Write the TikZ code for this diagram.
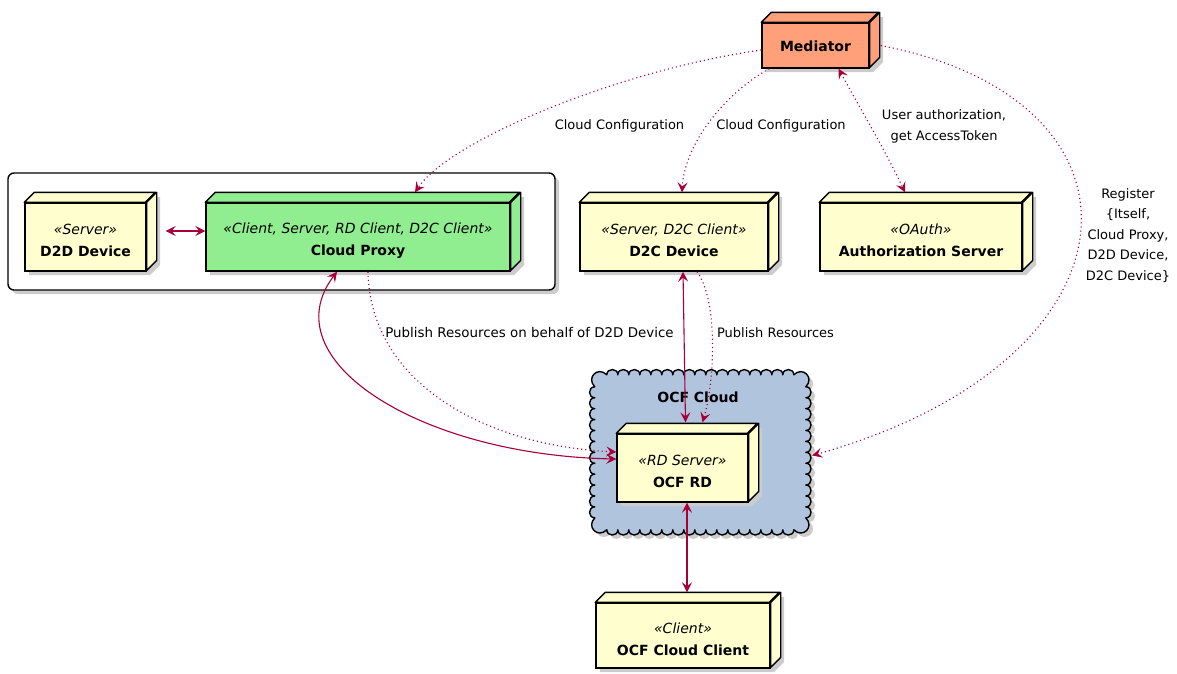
\documentclass[tikz,border=0pt]{standalone}
\usepackage{fontspec}
\setmainfont{DejaVu Sans}
\usetikzlibrary{arrows.meta}
\definecolor{arr}{HTML}{A80036}
\definecolor{devfill}{HTML}{FEFECE}
\definecolor{proxyfill}{HTML}{90EE90}
\definecolor{medfill}{HTML}{FFA07A}
\definecolor{cloudfill}{HTML}{B0C4DE}
\tikzset{
  dev/.style={draw=black, line width=1.4pt, inner sep=0pt},
  devtext/.style={align=center, inner sep=0pt, font=\fontsize{14}{22}\selectfont},
  devline/.style={draw=black, line width=1.4pt, line join=round},
  shade3/.style={fill=black!20},
  solidc/.style={draw=arr, line width=1.1pt},
  dottedc/.style={draw=arr, line width=1.1pt, dash pattern=on 1.1pt off 3pt},
  lbl/.style={font=\fontsize{13}{20.5}\selectfont, align=center, inner sep=0pt},
}
\newcommand\devdy{-3.5pt}
% #1 name, #2 cx, #3 cy, #4 w, #5 h, #6 fill, #7 text
\newcommand\devnode[7]{%
  \fill[shade3] ({#2-#4/2+4},{#3-#5/2+4}) -- ++(10,-10) -- ++(#4,0) -- ++(0,#5) -- ++(-10,10) -- ++(-#4,0) -- cycle;
  \node[dev, fill=#6, minimum width=#4, minimum height=#5,
        label={[devtext, yshift=\devdy]center:#7}] (#1) at (#2,#3) {};
  \draw[devline, fill=#6] (#1.north west) -- ++(10,-10) -- ++(#4,0) -- ++(-10,10) -- cycle;
  \draw[devline, fill=#6] (#1.north east) -- ++(10,-10) -- ++(0,#5) -- ++(-10,10) -- cycle;
}
% scalloped cloud outline starting at top-left of top edge
\newcommand\cloudpath{%
  \foreach \i in {1,...,17} { .. controls +(0,-7) and +(0,-7) .. ++(11,0) }
  .. controls +(9,-9) and +(9,-9) .. ++(12,12)
  \foreach \i in {1,...,12} { .. controls +(7,0) and +(7,0) .. ++(0,10.917) }
  .. controls +(9,9) and +(9,9) .. ++(-12,12)
  \foreach \i in {1,...,17} { .. controls +(0,7) and +(0,7) .. ++(-11,0) }
  .. controls +(-9,9) and +(-9,9) .. ++(-12,-12)
  \foreach \i in {1,...,12} { .. controls +(-7,0) and +(-7,0) .. ++(0,-10.917) }
  .. controls +(-9,-9) and +(-9,-9) .. ++(12,-12) -- cycle}
\begin{document}
\begin{tikzpicture}[x=1pt,y=-1pt,>={Stealth[length=10pt,width=10pt,inset=4pt]}]
\useasboundingbox (0,0) rectangle (1177,673);

% group around D2D device and cloud proxy
\fill[shade3, rounded corners=6pt] (12,177) rectangle (559,294);
\node[draw=black, line width=1.4pt, rounded corners=6pt, fill=white, minimum width=547, minimum height=117, inner sep=0pt] (grp) at (281.5,231.5) {};

% OCF cloud
\node[minimum width=211, minimum height=151, inner sep=0pt] (cloud) at (700.5,450.5) {};
\fill[shade3] ([xshift=16,yshift=-4]cloud.north west) \cloudpath;
\draw[line width=1.4pt, fill=cloudfill, line join=round] ([xshift=12]cloud.north west) \cloudpath;
\node[font=\bfseries\fontsize{14}{17}\selectfont, inner sep=0pt] (cl) at (698,397) {OCF Cloud};

% devices
\renewcommand\devdy{-0.5pt}
\devnode{med}{815.5}{45.5}{107}{45}{medfill}{\textbf{Mediator}}
\renewcommand\devdy{-3.5pt}
\devnode{d2d}{85.5}{237}{121}{68}{devfill}{{\itshape «Server»}\\\textbf{D2D Device}}
\devnode{cp}{358}{237}{304}{68}{proxyfill}{{\itshape «Client, Server, RD Client, D2C Client»}\\\textbf{Cloud Proxy}}
\devnode{d2c}{674}{237}{188}{68}{devfill}{{\itshape «Server, D2C Client»}\\\textbf{D2C Device}}
\devnode{auth}{921}{237}{202}{68}{devfill}{{\itshape «OAuth»}\\\textbf{Authorization Server}}
\devnode{rd}{682.5}{468}{131}{68}{devfill}{{\itshape «RD Server»}\\\textbf{OCF RD}}
\devnode{cli}{683}{635.5}{174}{65}{devfill}{{\itshape «Client»}\\\textbf{OCF Cloud Client}}

% labels
\node[lbl] (l1) at (619.5,126) {Cloud Configuration};
\node[lbl] (l2) at (781,126) {Cloud Configuration};
\node[lbl] (l3) at (944,126.5) {User authorization,\\ get AccessToken};
\node[lbl] (l4) at (1128,235.5) {Register\\\{Itself,\\Cloud Proxy,\\D2D Device,\\D2C Device\}};
\node[lbl, font=\fontsize{13.4}{20.5}\selectfont] (l5) at (529.5,332) {Publish Resources on behalf of D2D Device};
\node[lbl] (l6) at (775.5,332.5) {Publish Resources};

% connectors
\draw[dottedc,->] ([yshift=-4.5]med.west) .. controls (620,70) and (450,140) .. ([xshift=57,yshift=10]cp.north);
\draw[dottedc,->] ([xshift=8]med.south west) .. controls (730,90) and (685,140) .. ([xshift=8,yshift=10]d2c.north);
\draw[dottedc,<->] ([xshift=23]med.south) .. controls (862,112) and (885,150) .. ([xshift=-16,yshift=10]auth.north);
\draw[dottedc,->] ([xshift=11]med.east) .. controls (1165,100) and (1150,360) .. ([xshift=6,yshift=-5]cloud.east);
\draw[solidc,<->] ([xshift=19,yshift=6]d2d.east) -- ([yshift=6]cp.west);
\draw[solidc,<->] ([xshift=-21]cp.south) .. controls (270,360) and (420,455) .. ([yshift=9]rd.west);
\draw[dottedc,->] ([xshift=10]cp.south) .. controls (370,380) and (480,445) .. ([yshift=16]rd.west);
\draw[solidc,<->] ([xshift=9]d2c.south) -- ([xshift=3,yshift=11]rd.north);
\draw[dottedc,->] ([xshift=23]d2c.south) .. controls (718,300) and (715,380) .. ([xshift=20,yshift=11]rd.north);
\draw[solidc,<->] ([xshift=4.5]rd.south) -- ([xshift=4,yshift=10]cli.north);
\end{tikzpicture}
\end{document}
